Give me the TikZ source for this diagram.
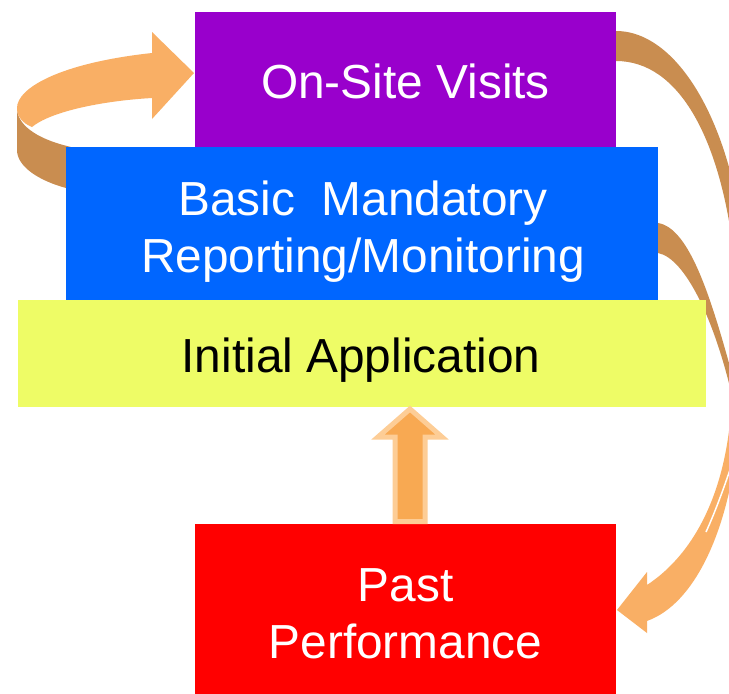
\documentclass[tikz,border=0pt]{standalone}
\usepackage{fontspec}
\setmainfont{Liberation Sans}
\usetikzlibrary{calc}
\pgfdeclarelayer{bg}
\pgfsetlayers{bg,main}
\definecolor{vpurple}{HTML}{9900CC}
\definecolor{vblue}{HTML}{0066FF}
\definecolor{vyellow}{HTML}{EEFC66}
\definecolor{vred}{HTML}{FF0000}
\definecolor{ribbonlight}{HTML}{F9AF65}
\definecolor{ribbondark}{HTML}{C98D50}
\definecolor{uparrowfill}{HTML}{F8A952}
\definecolor{uparrowedge}{HTML}{FDCD96}
\begin{document}
\begin{tikzpicture}[x=1pt,y=-1pt,
  box/.style={rectangle, inner sep=0pt, outer sep=0pt},
  lbl/.style={inner sep=0pt, anchor=base, align=center, font=\fontsize{47.8}{57}\selectfont},
  ribbonlit/.style={fill=ribbonlight},
  ribbonshade/.style={fill=ribbondark},
  uparrow/.style={fill=uparrowfill, draw=uparrowedge, line width=5pt, line join=miter},
]
\useasboundingbox (0,0) rectangle (729,694);

% boxes
\node[box, fill=vpurple, minimum width=421pt, minimum height=135pt] (visits) at (405.5,79.5) {};
\node[box, fill=vblue, minimum width=592pt, minimum height=153pt] (basic) at (362,223.5) {};
\node[box, fill=vyellow, minimum width=688pt, minimum height=107pt] (initial) at (362,353.5) {};
\node[box, fill=vred, minimum width=421pt, minimum height=170pt] (past) at (405.5,609) {};

% texts (base anchor = baseline of the last line)
\node[lbl, text=white] (visitsT) at (405.5,98) {On-Site Visits};
\node[lbl, text=white] (basicT) at (363,272) {Basic\ \ Mandatory\\Reporting/Monitoring};
\node[lbl, text=black] (initialT) at (361,372) {Initial Application};
\node[lbl, text=white] (pastT) at (405.5,658) {Past\\Performance};

% anchor points for the ribbons
\coordinate (a0) at ($(visits.north east)+(0,19)$);
\coordinate (a1) at ($(visits.north east)+(0,49)$);
\coordinate (b0) at ($(basic.north east)+(0,76)$);
\coordinate (b1) at ($(basic.north east)+(0,106)$);
\coordinate (rtip) at ($(past.east)+(1,1)$);
\coordinate (ltip) at ($(visits.west)+(-1,-6.5)$);

\begin{pgfonlayer}{bg}
  \fill[white] (0,0) rectangle (729,694);
  \begin{scope}
  \clip (0,0) rectangle (729,694);
  % left curved arrow: shaded side
  \fill[ribbonshade] (17,108) .. controls (17,124) and (35,138) .. (67,146)
     -- (75,148) -- (75,192) -- (66,188)
     .. controls (40,181) and (17,167) .. (17,150) -- cycle;
  % left curved arrow: lit top with head
  \fill[ribbonlit] (152,53) .. controls (60,63) and (17,88) .. (17,108)
     .. controls (17,116) and (22,123) .. (32,127)
     .. controls (50,112) and (100,101) .. (152,98)
     -- (152,119) -- (ltip) -- (152,32) -- cycle;
  % right ribbon from On-Site Visits
  \fill[ribbonshade] (a0) .. controls (680,31) and (735,130) .. (745,260)
     -- (760,260) -- (732,240)
     .. controls (718,140) and (680,61) .. (a1) -- cycle;
  % right ribbon from Basic Mandatory
  \fill[ribbonshade] (b0) .. controls (690,228) and (712,300) .. (735,385)
     -- (745,400) -- (733,400)
     .. controls (715,320) and (685,258) .. (b1) -- cycle;
  % lower part with arrow head towards Past Performance
  \fill[ribbonlit] (740,400) .. controls (738,500) and (705,600) .. (647,621)
     -- (647,633) -- (rtip) -- (647,572) -- (647,585)
     .. controls (700,550) and (730,480) .. (732,390)
     -- (750,390) -- cycle;
  \draw[white, line width=1.5pt] (706,532) .. controls (716,510) and (725,485) .. (735,455);
  \end{scope}
\end{pgfonlayer}

% up arrow from Past Performance to Initial Application
\coordinate (upx) at (410,0);
\coordinate (upbase) at (upx |- past.north);
\coordinate (uptip) at (upx |- initial.south);
\filldraw[uparrow] ($(uptip)+(0,2)$) -- ($(uptip)+(32,30)$) -- ($(uptip)+(15,30)$)
   -- ($(upbase)+(15,-2.5)$) -- ($(upbase)+(-15,-2.5)$)
   -- ($(uptip)+(-15,30)$) -- ($(uptip)+(-32,30)$) -- cycle;
\end{tikzpicture}
\end{document}
